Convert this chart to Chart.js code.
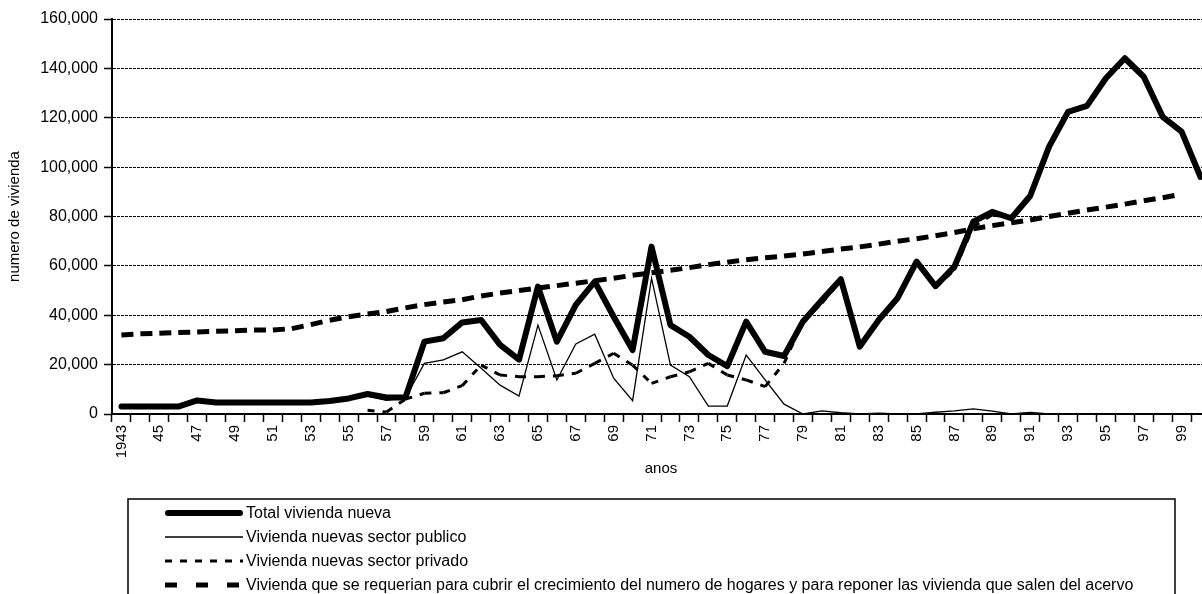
<!DOCTYPE html>
<html lang="es">
<head>
<meta charset="utf-8">
<title>Vivienda nueva 1943-2000</title>
<script src="https://cdn.jsdelivr.net/npm/chart.js@4.4.1/dist/chart.umd.min.js"></script>
<style>
  html, body { margin: 0; padding: 0; background: #fff; overflow: hidden; }
  #wrap { width: 1212px; height: 620px; }
</style>
</head>
<body>
<div id="wrap"><canvas id="chart" width="1212" height="620"></canvas></div>
<script>
// Años 1943-2000
const years = [1943,1944,1945,1946,1947,1948,1949,1950,1951,1952,1953,1954,1955,1956,1957,1958,1959,1960,
  1961,1962,1963,1964,1965,1966,1967,1968,1969,1970,1971,1972,1973,1974,1975,1976,1977,1978,1979,1980,
  1981,1982,1983,1984,1985,1986,1987,1988,1989,1990,1991,1992,1993,1994,1995,1996,1997,1998,1999,2000];

// Etiquetas del eje x: un año sí y otro no, abreviado salvo el primero
const yearTickLabels = ['1943','','45','','47','','49','','51','','53','','55','','57','','59','',
  '61','','63','','65','','67','','69','','71','','73','','75','','77','','79','',
  '81','','83','','85','','87','','89','','91','','93','','95','','97','','99',''];

// Total de vivienda nueva
const totalNueva = [3000,3000,3000,3000,5500,4700,4700,4700,4700,4700,4700,5300,6300,8100,6700,6700,29300,30700,
  37100,38100,28000,22000,51600,29300,44200,53600,39400,25900,67800,36000,31300,23900,19400,37400,25200,23500,37500,46200,
  54600,27300,38100,47000,61700,51800,59700,77900,81900,79300,88300,108300,122400,124800,136000,144100,136600,120400,114400,96000];

// Vivienda nueva del sector público
const sectorPublico = [3000,3000,3000,3000,5500,4700,4700,4700,4700,4700,4700,5300,6300,7200,5500,6500,20500,21900,
  25200,18500,11700,7300,36000,13800,28400,32300,14500,5400,55000,19800,15100,3200,3200,23900,13800,4000,0,1300,
  500,0,300,0,0,700,1300,2100,1200,0,600,0,null,null,null,null,null,null,null,null];

// Vivienda nueva del sector privado
const sectorPrivado = [null,null,null,null,null,null,null,null,null,null,null,null,null,1500,800,6000,8400,8600,
  11500,19800,15800,15100,15100,15500,16500,20500,24600,19800,12400,15100,17100,20500,15800,13800,11100,20500,37500,44900,
  54100,27300,37800,47000,61700,51100,58400,75800,80700,79300,87700,108300,122400,124800,136000,144100,136600,120400,114400,96000];

// Vivienda requerida por crecimiento de hogares y reposición del acervo
const viviendaRequerida = [32000,32500,32700,33000,33200,33500,33700,34000,34000,34600,36200,38000,39400,40500,41500,43000,44300,45400,
  46300,47800,49000,50000,51000,52000,53000,54000,55000,56200,57200,58200,59300,60500,61500,62500,63300,64000,64800,65800,
  66800,67700,68800,70000,71000,72200,73500,75000,76300,77500,78600,80000,81300,82600,83800,85000,86400,87600,89000,null];

const seriesNames = [
  'Total vivienda nueva',
  'Vivienda nuevas sector publico',
  'Vivienda nuevas sector privado',
  'Vivienda que se requerian para cubrir el crecimiento del numero de hogares y para reponer las vivienda que salen del acervo'
];

const FONT = '"Liberation Sans", Arial, Helvetica, sans-serif';

// Reinicia el patrón de trazos en cada tramo entre dos años:
// alterna un desfase equivalente (un periodo completo) para que cada tramo se dibuje aparte.
const restartDash = (period) => (c) => (c.p0DataIndex % 2) * period;

// Leyenda enmarcada debajo del eje x, con una muestra de línea por serie
const boxedLegend = {
  id: 'boxedLegend',
  afterDraw(chart) {
    const ctx = chart.ctx;
    const x0 = chart.chartArea.left + 16;
    const y0 = chart.scales.x.bottom + 21;
    ctx.save();
    ctx.strokeStyle = '#000';
    ctx.lineWidth = 1.5;
    ctx.setLineDash([]);
    ctx.strokeRect(x0, y0, 1047, 120);
    chart.data.datasets.forEach((ds, i) => {
      const y = y0 + 14 + i * 24;
      ctx.beginPath();
      ctx.lineWidth = ds.borderWidth;
      ctx.lineCap = ds.legendCap || 'butt';
      ctx.setLineDash(ds.borderDash || []);
      const inset = ds.legendCap === 'round' ? 3 : 0;
      ctx.moveTo(x0 + 37 + inset, y);
      ctx.lineTo(x0 + 115 - inset, y);
      ctx.stroke();
      ctx.setLineDash([]);
      ctx.fillStyle = '#000';
      ctx.font = '16px ' + FONT;
      ctx.textBaseline = 'middle';
      ctx.textAlign = 'left';
      ctx.fillText(ds.label, x0 + 118, y + 1);
    });
    ctx.restore();
  }
};

new Chart(document.getElementById('chart'), {
  type: 'line',
  data: {
    labels: years,
    datasets: [
      { label: seriesNames[0], data: totalNueva, borderColor: '#000', borderWidth: 6,
        borderJoinStyle: 'round', borderCapStyle: 'round', pointRadius: 0, order: 4,
        legendCap: 'round' },
      { label: seriesNames[1], data: sectorPublico, borderColor: '#000', borderWidth: 1.3,
        pointRadius: 0, order: 3 },
      { label: seriesNames[2], data: sectorPrivado, borderColor: '#000', borderWidth: 3,
        borderDash: [7, 8], pointRadius: 0, order: 2,
        segment: { borderDashOffset: restartDash(15) } },
      { label: seriesNames[3], data: viviendaRequerida, borderColor: '#000', borderWidth: 5,
        borderDash: [12, 19], pointRadius: 0, order: 1,
        segment: { borderDashOffset: restartDash(31) } }
    ]
  },
  options: {
    responsive: false,
    animation: false,
    events: [],
    layout: { padding: { top: 19, right: 2, bottom: 142, left: 0 } },
    plugins: { legend: { display: false }, tooltip: { enabled: false } },
    scales: {
      x: {
        type: 'category',
        offset: true,
        afterFit: (s) => { s.height = 64; s.paddingLeft = 0; s.paddingRight = 0; },
        grid: { display: true, offset: true, drawOnChartArea: false, drawTicks: true,
                tickLength: 8, tickColor: '#000', tickWidth: 1.5 },
        border: { display: true, color: '#000', width: 2 },
        ticks: {
          autoSkip: false, maxRotation: 90, minRotation: 90, padding: 3,
          color: '#000', font: { family: FONT, size: 15 },
          callback: (v, i) => yearTickLabels[i]
        },
        title: { display: true, text: 'anos', color: '#000',
                 font: { family: FONT, size: 15 }, padding: { top: 0, bottom: 0 } }
      },
      y: {
        min: 0, max: 160000,
        afterFit: (s) => { s.width = 112; },
        grid: { color: '#000', lineWidth: 1, drawTicks: true, tickLength: 8,
                tickColor: '#000', tickWidth: 1.5, tickBorderDash: [] },
        border: { display: true, color: '#000', width: 2, dash: [3, 1] },
        ticks: {
          stepSize: 20000, padding: 6, color: '#000',
          font: { family: FONT, size: 16 },
          callback: (v) => v.toLocaleString('en-US')
        },
        title: { display: true, text: 'numero de vivienda', color: '#000',
                 font: { family: FONT, size: 15 }, padding: { top: 6, bottom: 0 } }
      }
    }
  },
  plugins: [boxedLegend]
});
</script>
</body>
</html>
